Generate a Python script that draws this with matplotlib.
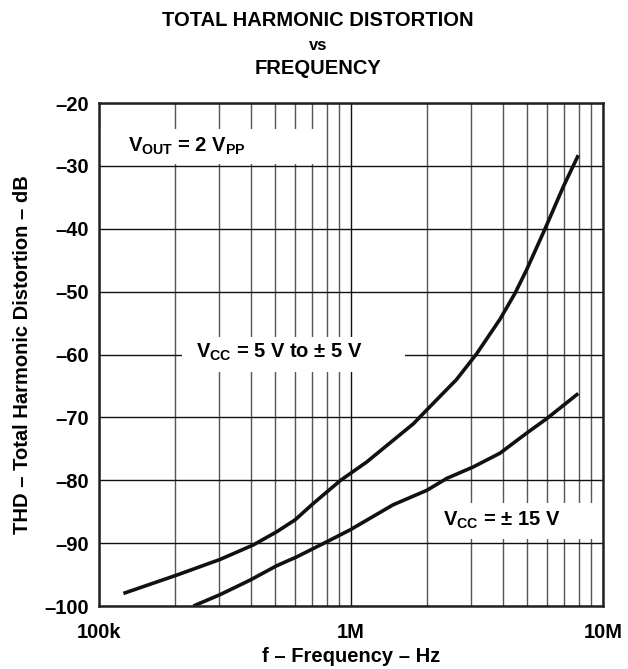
import numpy as np
import matplotlib.pyplot as plt
from matplotlib.patches import Rectangle
from matplotlib.ticker import LogLocator, NullFormatter, FixedLocator

plt.rcParams['font.family'] = ['Liberation Sans', 'DejaVu Sans']
plt.rcParams['font.weight'] = 'bold'
plt.rcParams['mathtext.fontset'] = 'custom'
plt.rcParams['mathtext.rm'] = 'Liberation Sans'
plt.rcParams['mathtext.bf'] = 'Liberation Sans:bold'

# Curve data (frequency in Hz, THD in dB)
freq_5v = [1.25e5, 2.03e5, 3.02e5, 4.09e5, 5.07e5, 6.0e5, 7.08e5, 9.1e5,
           1.154e6, 1.77e6, 2.0e6, 2.25e6, 2.62e6, 3.15e6, 3.90e6, 4.47e6,
           4.98e6, 5.89e6, 6.96e6, 7.98e6]
thd_5v = [-98.0, -95.1, -92.6, -90.3, -88.2, -86.3, -83.7, -80.0,
          -77.1, -71.0, -68.8, -66.7, -64.0, -59.9, -54.4, -50.3,
          -46.5, -40.0, -33.3, -28.3]

freq_15v = [2.37e5, 3.02e5, 3.97e5, 5.07e5, 6.08e5, 8.0e5, 9.91e5,
            1.47e6, 2.0e6, 2.40e6, 3.05e6, 3.90e6, 4.98e6, 5.98e6, 7.98e6]
thd_15v = [-100.0, -98.2, -95.9, -93.6, -92.2, -89.8, -87.9,
           -83.9, -81.6, -79.7, -77.9, -75.7, -72.5, -70.2, -66.2]

y_ticks = [-100, -90, -80, -70, -60, -50, -40, -30, -20]
x_ticks = [1e5, 1e6, 1e7]
x_tick_labels = ['100k', '1M', '10M']

FS = 14.5

fig = plt.figure(figsize=(6.28, 6.69), dpi=100)
# axes box: x 99..603 px, y 103..606 px
ax = fig.add_axes([99 / 628, 1 - 606 / 669, 504 / 628, 503 / 669])

ax.set_xscale('log')
ax.set_xlim(1e5, 1e7)
ax.set_ylim(-100, -20)

ax.xaxis.set_major_locator(FixedLocator(x_ticks))
ax.set_xticklabels(x_tick_labels)
ax.xaxis.set_minor_locator(LogLocator(base=10, subs=np.arange(2, 10)))
ax.xaxis.set_minor_formatter(NullFormatter())
ax.set_yticks(y_ticks)
ax.set_yticklabels(['\u2013' + str(abs(v)) for v in y_ticks])

ax.grid(True, which='major', axis='both', color='#111111', linewidth=1.0)
ax.grid(True, which='minor', axis='x', color='#555555', linewidth=1.0)
ax.set_axisbelow(True)
ax.tick_params(which='both', length=0, labelsize=FS)
ax.tick_params(axis='x', pad=12)
ax.tick_params(axis='y', pad=7)
for lab in ax.get_xticklabels() + ax.get_yticklabels():
    lab.set_fontweight('bold')
for sp in ax.spines.values():
    sp.set_linewidth(1.8)
    sp.set_color('#222222')
    sp.set_zorder(5)

ax.plot(freq_5v, thd_5v, color='#111111', linewidth=2.6, zorder=4,
        solid_capstyle='butt')
ax.plot(freq_15v, thd_15v, color='#111111', linewidth=2.6, zorder=4,
        solid_capstyle='butt')

# white masks behind the labels (grid gaps)
masks = [(0.0, 0.879, 0.435, 0.069),
         (0.165, 0.465, 0.442, 0.070),
         (0.677, 0.133, 0.317, 0.072)]
for (mx, my, mw, mh) in masks:
    ax.add_patch(Rectangle((mx, my), mw, mh, transform=ax.transAxes,
                           facecolor='white', edgecolor='none', zorder=2))

ax.text(0.058, 0.913, r'V$_{\mathbf{OUT}}$ = 2 V$_{\mathbf{PP}}$',
        transform=ax.transAxes, fontsize=FS, fontweight='bold',
        va='center', ha='left', zorder=3)
ax.text(0.192, 0.505, r'V$_{\mathbf{CC}}$ = 5 V to $\pm$ 5 V',
        transform=ax.transAxes, fontsize=FS, fontweight='bold',
        va='center', ha='left', zorder=3)
ax.text(0.683, 0.171, r'V$_{\mathbf{CC}}$ = $\pm$ 15 V',
        transform=ax.transAxes, fontsize=FS, fontweight='bold',
        va='center', ha='left', zorder=3)

ax.set_xlabel('f \u2013 Frequency \u2013 Hz', fontsize=FS, fontweight='bold',
              labelpad=4)
ax.set_ylabel('THD \u2013 Total Harmonic Distortion \u2013 dB', fontsize=FS,
              fontweight='bold', labelpad=9)

fig.text(318 / 628, 1 - 20 / 669, 'TOTAL HARMONIC DISTORTION', ha='center',
         va='center', fontsize=FS, fontweight='bold')
fig.text(318 / 628, 1 - 46 / 669, 'vs', ha='center', va='center',
         fontsize=12, fontweight='bold')
fig.text(318 / 628, 1 - 68 / 669, 'FREQUENCY', ha='center', va='center',
         fontsize=FS, fontweight='bold')

fig.savefig('out.png', dpi=100)
